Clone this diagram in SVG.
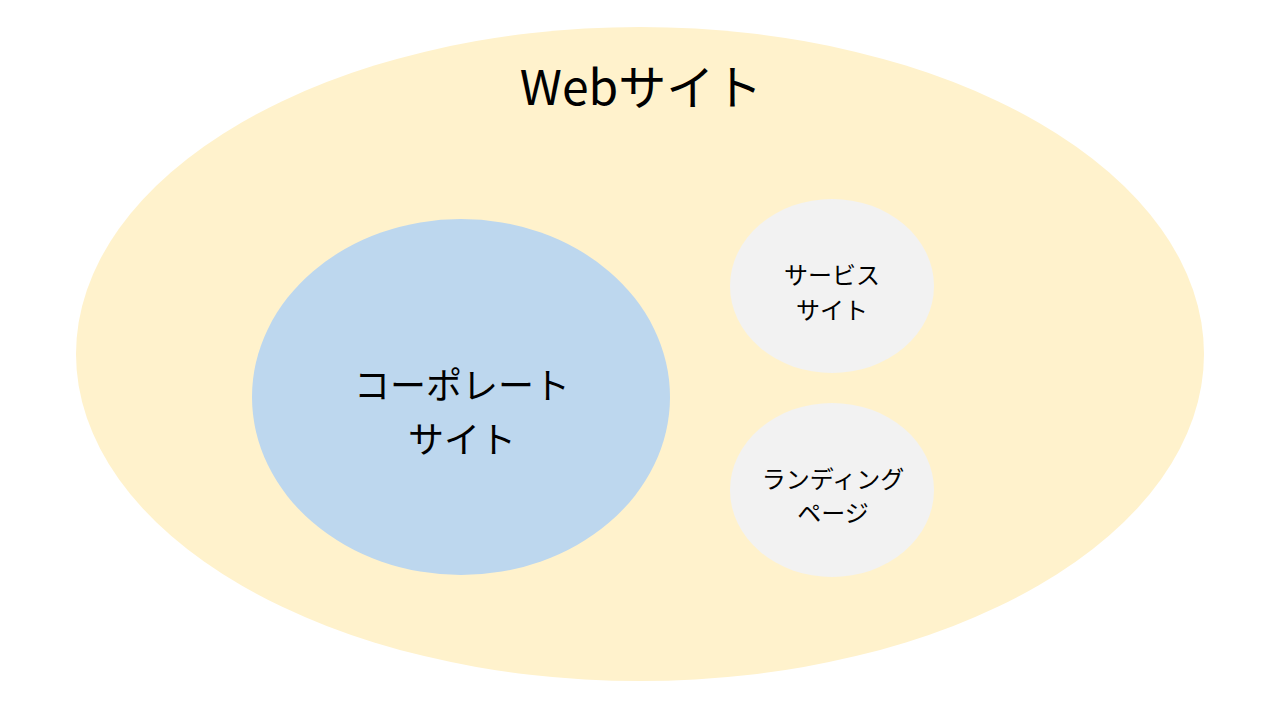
<svg xmlns="http://www.w3.org/2000/svg" width="1280" height="720" viewBox="0 0 1280 720">
<style>
text{font-family:"Noto Sans CJK JP","Noto Sans",sans-serif;fill:#000;text-anchor:middle;dominant-baseline:central}
.small{fill:#F2F2F2}
</style>
<rect width="1280" height="720" fill="#FFFFFF"/>
<g id="web">
<ellipse cx="640" cy="354" rx="564" ry="327" fill="#FFF2CC"/>
<text x="641" y="84" font-size="48">Webサイト</text>
</g>
<g id="corporate">
<ellipse cx="461" cy="397" rx="209" ry="178" fill="#BDD7EE"/>
<text x="462" y="383" font-size="36">コーポレート</text>
<text x="462" y="437" font-size="36">サイト</text>
</g>
<g id="service">
<ellipse class="small" cx="832" cy="286" rx="102" ry="87"/>
<text x="832" y="273" font-size="24">サービス</text>
<text x="832" y="308" font-size="24">サイト</text>
</g>
<g id="landing">
<ellipse class="small" cx="832" cy="490" rx="102" ry="87"/>
<text x="833" y="477" font-size="24">ランディング</text>
<text x="833" y="511" font-size="24">ページ</text>
</g>
<g id="connectors"/>
</svg>
